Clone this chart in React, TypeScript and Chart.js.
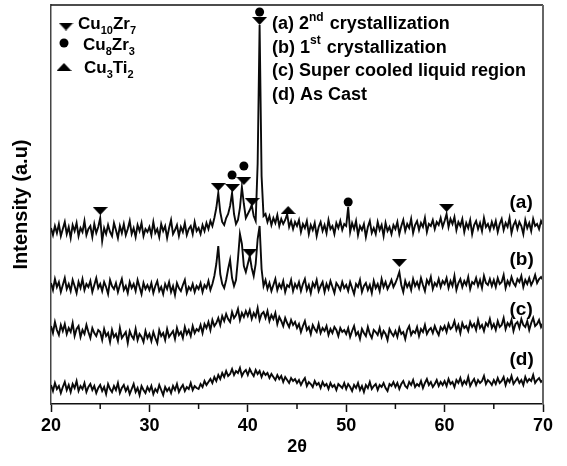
import React, { useEffect, useRef } from "react";
import { Chart, registerables } from "chart.js";

Chart.register(...registerables);

// 2θ sampling grid (20° .. 70°, 0.2° step)
const THETA_START = 20;
const THETA_STEP = 0.2;
const THETA_COUNT = 251;
const twoTheta: number[] = Array.from({ length: THETA_COUNT }, (_, i) => +(THETA_START + i * THETA_STEP).toFixed(1));

// (a) 2nd crystallization
const seriesA: number[] = [
  176,169,178,171,180,168,175,182,170,177,166,179,173,181,168,176,172,183,169,175,178,167,180,171,177,
  186,163,176,170,179,172,168,181,174,166,178,171,180,169,175,183,170,176,167,179,173,181,168,175,172,
  177,169,182,171,175,167,180,173,178,166,176,184,170,174,179,168,177,172,181,169,175,178,170,182,173,
  176,170,179,173,181,175,183,178,186,196,211,192,182,179,186,190,198,211,190,180,184,196,217,200,186,
  190,194,199,188,183,240,379,228,188,190,182,188,179,186,181,189,178,185,180,184,190,177,183,175,182,
  178,184,172,180,176,183,170,179,174,181,168,177,182,173,179,171,184,175,178,170,181,176,183,174,180,
  178,197,172,181,175,183,169,178,174,180,167,177,183,171,176,170,182,174,179,168,181,173,177,170,179,
  175,182,170,178,184,173,180,176,185,171,179,183,174,181,177,186,172,180,178,184,175,182,179,186,177,
  183,190,177,185,180,187,174,182,178,185,172,181,176,184,170,179,183,175,181,173,186,177,180,174,182,
  176,183,172,180,185,174,181,177,186,171,179,183,175,182,178,170,184,176,181,173,185,178,180,175,183,
  179
];

// (b) 1st crystallization
const seriesB: number[] = [
  121,114,125,117,122,112,119,126,115,120,113,124,118,111,122,116,125,114,120,117,123,112,119,126,116,
  120,113,122,117,110,124,118,115,121,112,119,125,114,118,111,122,116,120,113,124,117,110,121,115,119,
  114,121,111,118,123,113,117,110,120,115,122,112,118,109,121,116,113,119,124,111,117,114,120,112,118,
  115,121,112,119,116,123,114,120,128,140,158,130,120,116,124,135,144,126,118,124,145,170,160,138,132,
  140,148,136,128,140,165,178,135,118,124,115,121,113,119,125,114,120,116,123,112,119,117,124,113,120,
  116,122,113,120,125,114,119,111,121,117,124,113,118,122,112,120,115,123,117,111,121,118,114,122,116,
  119,113,122,116,110,120,117,124,112,118,121,114,119,111,123,116,120,113,125,117,122,115,119,124,117,
  121,126,132,119,112,123,117,121,114,125,118,122,116,126,119,113,124,120,127,115,121,118,125,117,123,
  120,126,116,123,118,128,114,121,125,117,123,119,127,115,122,120,126,118,124,116,128,121,119,125,118,
  124,117,126,120,122,129,116,123,119,127,121,118,125,122,128,117,124,120,126,119,123,129,121,125,127,
  124
];

// (c) Super cooled liquid region
const seriesC: number[] = [
  78,71,82,74,69,79,73,80,70,76,72,81,68,75,78,67,74,70,79,72,66,76,71,68,74,
  72,64,75,68,71,62,74,67,70,63,76,66,69,72,61,73,68,65,75,64,70,67,62,73,66,
  70,63,72,66,61,74,68,71,64,75,67,70,73,65,76,69,72,66,77,70,74,68,78,71,75,
  73,79,71,80,76,82,74,84,78,81,86,79,88,83,90,85,82,92,86,89,95,84,91,87,93,
  88,94,85,91,87,96,84,90,92,86,93,83,89,85,91,80,87,83,78,86,81,77,84,79,82,
  76,80,72,78,83,74,77,70,79,75,72,80,71,76,73,78,69,75,71,77,74,68,76,72,74,
  70,76,67,73,78,69,72,65,75,71,68,77,70,66,74,72,69,76,67,73,70,64,75,71,68,
  73,67,76,70,72,65,74,78,69,73,71,77,68,75,72,79,70,74,76,71,78,73,69,77,74,
  78,72,80,75,77,83,74,79,71,81,76,78,73,82,77,80,74,84,76,79,73,81,78,85,76,
  80,74,83,77,79,86,75,81,78,84,73,80,82,76,85,79,77,83,74,81,86,78,80,84,77,
  81
];

// (d) As Cast
const seriesD: number[] = [
  19,13,21,15,18,11,17,22,14,19,12,20,16,23,13,18,15,21,12,17,20,14,18,11,16,
  19,13,17,10,20,15,12,18,14,21,11,16,19,13,17,10,15,20,12,16,9,18,14,11,17,
  13,18,10,15,12,19,14,9,17,13,16,11,18,14,20,12,16,19,13,17,15,21,14,18,16,
  15,20,17,23,19,22,25,21,27,23,29,25,31,27,33,28,30,35,29,33,31,36,28,32,34,
  29,35,31,28,34,30,33,27,32,29,31,26,30,27,24,29,25,28,22,27,24,21,26,23,25,
  21,24,19,23,26,18,22,20,17,23,19,21,16,22,18,20,15,21,17,19,14,20,18,16,21,
  15,20,17,13,19,16,21,14,18,12,19,16,22,15,18,20,14,19,17,21,16,13,20,18,22,
  17,21,15,20,23,18,16,22,19,24,17,20,18,23,16,21,25,19,22,17,20,24,18,22,19,
  23,18,25,20,22,17,24,21,26,19,23,20,27,18,22,25,19,24,21,23,28,20,24,22,19,
  24,20,26,21,23,27,19,25,22,28,20,23,26,21,24,19,27,22,25,23,29,21,24,26,22,
  24
];

// Phase markers (peak identification)
const cu10zr7X: number[] = [25.0, 37.0, 38.45, 39.6, 40.45, 41.2, 60.2, 40.2, 55.4];
const cu10zr7Y: number[] = [193, 217, 216, 223, 202, 383, 196, 151, 141];
const cu8zr3X: number[] = [38.4, 39.6, 41.2, 50.2];
const cu8zr3Y: number[] = [229, 238, 392, 202];
const cu3ti2X: number[] = [44.1];
const cu3ti2Y: number[] = [194];

// Text
const xTickValues: number[] = [20, 30, 40, 50, 60, 70];
const xMinorTicks: number[] = [25, 35, 45, 55, 65];
const xTitle = "2θ";
const yTitle = "Intensity (a.u)";
type Part = [string, "n" | "sub" | "sup"];
const phaseLegend: Part[][] = [
  [["Cu", "n"], ["10", "sub"], ["Zr", "n"], ["7", "sub"]],
  [["Cu", "n"], ["8", "sub"], ["Zr", "n"], ["3", "sub"]],
  [["Cu", "n"], ["3", "sub"], ["Ti", "n"], ["2", "sub"]],
];
const curveLegend: Part[][] = [
  [["(a) 2", "n"], ["nd", "sup"], [" crystallization", "n"]],
  [["(b) 1", "n"], ["st", "sup"], [" crystallization", "n"]],
  [["(c) Super cooled liquid region", "n"]],
  [["(d) As Cast", "n"]],
];
const curveLabels: string[] = ["(a)", "(b)", "(c)", "(d)"];
const curveLabelX = 66.6;
const curveLabelY: number[] = [196, 139, 89, 39];

const FONT = '"Liberation Sans", Arial, Helvetica, sans-serif';

function makeTriangle(down: boolean): HTMLCanvasElement {
  const c = document.createElement("canvas");
  c.width = 15;
  c.height = 8;
  const g = c.getContext("2d")!;
  g.fillStyle = "#000";
  g.beginPath();
  if (down) {
    g.moveTo(0, 0);
    g.lineTo(15, 0);
    g.lineTo(7.5, 8);
  } else {
    g.moveTo(7.5, 0);
    g.lineTo(15, 8);
    g.lineTo(0, 8);
  }
  g.closePath();
  g.fill();
  return c;
}

function drawRich(ctx: CanvasRenderingContext2D, x: number, y: number, parts: Part[], size: number) {
  let cx = x;
  for (const [t, kind] of parts) {
    const fs = kind === "n" ? size : Math.round(size * 0.66);
    ctx.font = `bold ${fs}px ${FONT}`;
    const dy = kind === "sub" ? size * 0.3 : kind === "sup" ? -size * 0.45 : 0;
    ctx.fillText(t, cx, y + dy);
    cx += ctx.measureText(t).width + (kind === "sup" ? 1 : 0);
  }
}

export default function App() {
  const ref = useRef<HTMLCanvasElement | null>(null);

  useEffect(() => {
    if (!ref.current) return;
    const triDown = makeTriangle(true);
    const triUp = makeTriangle(false);

    const toXY = (arr: number[]) => twoTheta.map((t, i) => ({ x: t, y: arr[i] }));
    const pts = (xs: number[], ys: number[]) => xs.map((x, i) => ({ x, y: ys[i] }));

    const lineDs = (label: string, arr: number[]) => ({
      type: "line" as const,
      label,
      data: toXY(arr),
      borderColor: "#0a0a0a",
      borderWidth: 1.9,
      pointRadius: 0,
      tension: 0,
      fill: false,
      order: 2,
    });
    const markerDs = (label: string, xs: number[], ys: number[], style: any, r: number) => ({
      type: "line" as const,
      label,
      data: pts(xs, ys),
      showLine: false,
      pointStyle: style,
      pointRadius: r,
      pointBackgroundColor: "#000",
      pointBorderColor: "#000",
      pointBorderWidth: 0,
      order: 1,
    });

    const decor = {
      id: "decor",
      afterDraw(chart: any) {
        const ctx: CanvasRenderingContext2D = chart.ctx;
        const a = chart.chartArea;
        const xs = chart.scales.x;
        const ys = chart.scales.y;
        ctx.save();
        // box top and right
        ctx.strokeStyle = "#111";
        ctx.lineWidth = 1.5;
        ctx.beginPath();
        ctx.moveTo(a.left, a.top);
        ctx.lineTo(a.right, a.top);
        ctx.stroke();
        ctx.strokeStyle = "#666";
        ctx.lineWidth = 2;
        ctx.beginPath();
        ctx.moveTo(a.right, a.top);
        ctx.lineTo(a.right, a.bottom);
        ctx.stroke();
        // minor ticks
        ctx.strokeStyle = "#111";
        ctx.lineWidth = 1.5;
        for (const v of xMinorTicks) {
          const px = xs.getPixelForValue(v);
          ctx.beginPath();
          ctx.moveTo(px, a.bottom);
          ctx.lineTo(px, a.bottom + 5);
          ctx.stroke();
        }
        // phase legend
        ctx.fillStyle = "#000";
        ctx.textBaseline = "alphabetic";
        ctx.textAlign = "left";
        const lx = a.left + 15;
        ctx.drawImage(triDown, lx - 7.5, a.top + 21.5 - 4);
        ctx.beginPath();
        ctx.arc(lx - 2, a.top + 38, 4.5, 0, Math.PI * 2);
        ctx.fill();
        ctx.drawImage(triUp, lx - 9.5, a.top + 62 - 4);
        drawRich(ctx, a.left + 27, a.top + 23.5, phaseLegend[0], 17);
        drawRich(ctx, a.left + 32, a.top + 45, phaseLegend[1], 17);
        drawRich(ctx, a.left + 33, a.top + 67.5, phaseLegend[2], 17);
        // curve legend
        const cx0 = a.left + 221;
        curveLegend.forEach((p, i) => drawRich(ctx, cx0, a.top + 24 + i * 23.5, p, 18));
        // curve labels
        ctx.font = `bold 19px ${FONT}`;
        curveLabels.forEach((t, i) => {
          ctx.fillText(t, xs.getPixelForValue(curveLabelX), ys.getPixelForValue(curveLabelY[i]));
        });
        ctx.restore();
      },
    };

    const chart = new Chart(ref.current, {
      type: "line",
      data: {
        datasets: [
          lineDs("(a)", seriesA),
          lineDs("(b)", seriesB),
          lineDs("(c)", seriesC),
          lineDs("(d)", seriesD),
          markerDs("Cu10Zr7", cu10zr7X, cu10zr7Y, triDown, 5),
          markerDs("Cu8Zr3", cu8zr3X, cu8zr3Y, "circle", 4.5),
          markerDs("Cu3Ti2", cu3ti2X, cu3ti2Y, triUp, 5),
        ] as any,
      },
      options: {
        animation: false,
        responsive: false,
        devicePixelRatio: 1,
        layout: { padding: { top: 5, right: 24, left: 0, bottom: 0 } },
        plugins: { legend: { display: false }, tooltip: { enabled: false } },
        scales: {
          x: {
            type: "linear",
            min: 20,
            max: 70,
            afterFit: (s: any) => {
              s.height = 62;
            },
            afterBuildTicks: (s: any) => {
              s.ticks = xTickValues.map((v) => ({ value: v }));
            },
            ticks: {
              color: "#000",
              font: { family: FONT, size: 18, weight: "bold" },
              maxRotation: 0,
              autoSkip: false,
              padding: 3,
            },
            grid: {
              display: true,
              drawOnChartArea: false,
              drawTicks: true,
              tickLength: 8,
              color: "#111",
              tickWidth: 1.5,
            },
            border: { display: true, color: "#111", width: 1.5 },
            title: {
              display: true,
              text: xTitle,
              color: "#000",
              font: { family: FONT, size: 18, weight: "bold" },
              padding: { top: 0, bottom: 8 },
            },
          },
          y: {
            type: "linear",
            min: 0,
            max: 399,
            afterFit: (s: any) => {
              s.width = 51;
            },
            ticks: { display: false },
            grid: { display: false },
            border: { display: true, color: "#444", width: 1.5 },
            title: {
              display: true,
              text: yTitle,
              color: "#000",
              font: { family: FONT, size: 20, weight: "bold" },
              padding: { top: 9, bottom: 0 },
            },
          },
        },
      },
      plugins: [decor],
    });
    return () => chart.destroy();
  }, []);

  return (
    <div style={{ position: "fixed", left: 0, top: 0, width: 567, height: 466, background: "#fff" }}>
      <canvas ref={ref} width={567} height={466} style={{ width: 567, height: 466, display: "block" }} />
    </div>
  );
}
